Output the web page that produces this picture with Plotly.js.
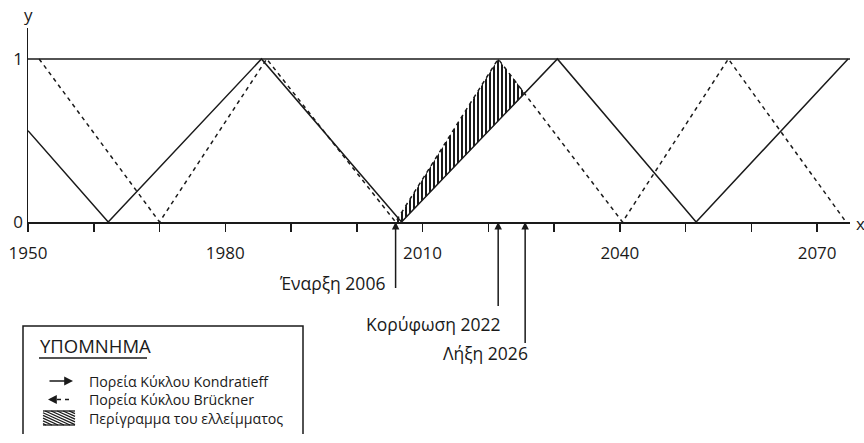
<!DOCTYPE html>
<html>
<head>
<meta charset="utf-8">
<script src="https://cdn.plot.ly/plotly-3.0.1.min.js"></script>
<style>html,body{margin:0;padding:0;background:#fff;}#chart{width:864px;height:443px;}</style>
</head>
<body>
<div id="chart"></div>
<script>
// ---- data ----
const kondYears = [1950, 1962.2, 1985.5, 2006.8, 2030.5, 2051.6, 2074.7];
const kondValues = [0.56, 0, 1, 0, 1, 0, 1];
const bruckYears = [1951.7, 1970, 1986.3, 2005.9, 2021.5, 2040.4, 2056.5, 2074.4];
const bruckValues = [1, 0, 1, 0, 1, 0, 1, 0];
const deficitYears = [2005.9, 2021.5, 2025.6, 2006.8];
const deficitValues = [0, 1, 0.79, 0];
const tickYears = [1950, 1960, 1970, 1980, 1990, 2000, 2010, 2020, 2030, 2040, 2050, 2060, 2070];
const tickLabels = ['1950', '', '', '1980', '', '', '2010', '', '', '2040', '', '', '2070'];
const yTickVals = [0, 1];
const yTickLabels = ['0', '1'];
const eventLabels = ['Έναρξη 2006', 'Κορύφωση 2022', 'Λήξη 2026'];
const eventYears = [2005.9, 2021.5, 2025.6];
const legendTitle = 'ΥΠΟΜΝΗΜΑ';
const legendLabels = ['Πορεία Κύκλου Kondratieff', 'Πορεία Κύκλου Brückner', 'Περίγραμμα του ελλείμματος'];

// ---- layout helpers (pixel -> paper) ----
const ML = 28, MR = 14, MT = 28, MB = 221;
const PW = 864 - ML - MR, PH = 443 - MT - MB;
const px = x => (x - ML) / PW;
const py = y => (443 - MB - y) / PH;
const FONT = 'Open Sans, sans-serif';
const INK = '#1a1a1a';

const traces = [
  {
    x: deficitYears, y: deficitValues, type: 'scatter', mode: 'lines',
    fill: 'toself', line: {width: 0, color: 'rgba(0,0,0,0)'},
    fillcolor: 'rgba(0,0,0,0)',
    fillpattern: {shape: '|', size: 4, solidity: 0.5, fgcolor: INK, bgcolor: 'white'},
    hoverinfo: 'skip', showlegend: false
  },
  {
    x: bruckYears, y: bruckValues, type: 'scatter', mode: 'lines',
    line: {color: INK, width: 1.5, dash: '4px,4px'}, showlegend: false
  },
  {
    x: kondYears, y: kondValues, type: 'scatter', mode: 'lines',
    line: {color: INK, width: 1.5}, showlegend: false
  }
];

const annotations = [];
const shapes = [];

// top line at y = 1
shapes.push({type: 'line', xref: 'x', yref: 'y', x0: 1950, x1: 2075, y0: 1, y1: 1,
  line: {color: INK, width: 1.5}});

// axis titles
annotations.push({xref: 'paper', yref: 'paper', x: px(28), y: py(14), text: 'y', showarrow: false,
  font: {family: FONT, size: 17, color: INK}, xanchor: 'center', yanchor: 'middle'});
annotations.push({xref: 'paper', yref: 'paper', x: px(860), y: py(223), text: 'x', showarrow: false,
  font: {family: FONT, size: 17, color: INK}, xanchor: 'center', yanchor: 'middle'});

// event arrows + labels
const tailPix = [290, 308, 345];
const textRight = [387, 503, 530];
const textY = [283, 324, 353];
eventYears.forEach((yr, i) => {
  annotations.push({xref: 'x', yref: 'y', axref: 'x', ayref: 'y', x: yr, y: 0, ax: yr,
    ay: -(tailPix[i] - (443 - MB)) / (PH / 1.19), text: ' ', showarrow: true,
    arrowhead: 2, arrowsize: 1, arrowwidth: 1.5, arrowcolor: INK, standoff: 0, startstandoff: 0,
    font: {size: 1}});
  annotations.push({xref: 'paper', yref: 'paper', x: px(textRight[i]), y: py(textY[i]),
    text: eventLabels[i], showarrow: false, xanchor: 'right', yanchor: 'middle',
    font: {family: FONT, size: 17.5, color: INK}});
});

// legend box
shapes.push({type: 'path', xref: 'paper', yref: 'paper',
  path: `M ${px(23)} ${py(434)} L ${px(23)} ${py(326)} L ${px(303)} ${py(326)} L ${px(303)} ${py(434)}`,
  line: {color: INK, width: 1.5}});
annotations.push({xref: 'paper', yref: 'paper', x: px(38), y: py(345), text: legendTitle,
  showarrow: false, xanchor: 'left', yanchor: 'middle', font: {family: FONT, size: 18.5, color: INK}});
shapes.push({type: 'line', xref: 'paper', yref: 'paper', x0: px(39), x1: px(147), y0: py(358), y1: py(358),
  line: {color: INK, width: 1.5}});

const rowY = [381, 399.5, 418];
// row 1: solid arrow
annotations.push({xref: 'paper', yref: 'paper', x: px(73), y: py(rowY[0]), ax: -25, ay: 0,
  text: ' ', showarrow: true, arrowhead: 2, arrowsize: 1.1, arrowwidth: 1.6, arrowcolor: INK,
  standoff: 0, font: {size: 1}});
// row 2: arrowhead left + dashed
annotations.push({xref: 'paper', yref: 'paper', x: px(48), y: py(rowY[1]), ax: 7, ay: 0,
  text: ' ', showarrow: true, arrowhead: 2, arrowsize: 1.1, arrowwidth: 1.6, arrowcolor: INK,
  standoff: 0, font: {size: 1}});
shapes.push({type: 'line', xref: 'paper', yref: 'paper', x0: px(57), x1: px(73), y0: py(rowY[1]), y1: py(rowY[1]),
  line: {color: INK, width: 1.6, dash: '4px,4px'}});
// row 3: hatched swatch
(function () {
  const x0 = 43, x1 = 75, y0 = 411, y1 = 425;
  shapes.push({type: 'line', xref: 'paper', yref: 'paper', x0: px(x0), x1: px(x1), y0: py(y0), y1: py(y0), line: {color: INK, width: 1.3}});
  shapes.push({type: 'line', xref: 'paper', yref: 'paper', x0: px(x0), x1: px(x1), y0: py(y1), y1: py(y1), line: {color: INK, width: 1.3}});
  const h = y1 - y0, run = 2.2 * h, k = h / run;
  for (let s = x0 - run + 3; s <= x1; s += 6) {
    let ax = s, ay = y0, bx = s + run, by = y1;
    if (ax < x0) { ay = y0 + (x0 - ax) * k; ax = x0; }
    if (bx > x1) { by = y1 - (bx - x1) * k; bx = x1; }
    if (bx - ax < 1) continue;
    shapes.push({type: 'line', xref: 'paper', yref: 'paper', x0: px(ax), y0: py(ay), x1: px(bx), y1: py(by),
      line: {color: INK, width: 1.3}});
  }
})();
annotations.push({xref: 'paper', yref: 'paper', x: px(87), y: py(rowY[1]), text: legendLabels.join('<br>'),
  showarrow: false, xanchor: 'left', yanchor: 'middle', align: 'left',
  font: {family: FONT, size: 14.2, color: INK}});

const layout = {
  width: 864, height: 443,
  margin: {l: ML, r: MR, t: MT, b: MB, pad: 0},
  paper_bgcolor: 'white', plot_bgcolor: 'white',
  showlegend: false,
  font: {family: FONT, size: 17, color: INK},
  xaxis: {
    range: [1950, 2075], showgrid: false, zeroline: false,
    showline: true, linecolor: INK, linewidth: 1.5,
    tickmode: 'array', tickvals: tickYears, ticktext: tickLabels,
    ticks: 'outside', ticklen: 8, tickwidth: 1.5, tickcolor: INK,
    ticklabelstandoff: 7,
    tickfont: {family: FONT, size: 17, color: INK}
  },
  yaxis: {
    range: [0, 1.19], showgrid: false, zeroline: false,
    showline: true, linecolor: INK, linewidth: 1.5,
    tickmode: 'array', tickvals: yTickVals, ticktext: yTickLabels,
    ticks: '', tickfont: {family: FONT, size: 17, color: INK}
  },
  shapes: shapes,
  annotations: annotations
};

Plotly.newPlot('chart', traces, layout, {displayModeBar: false, staticPlot: true});
</script>
</body>
</html>
